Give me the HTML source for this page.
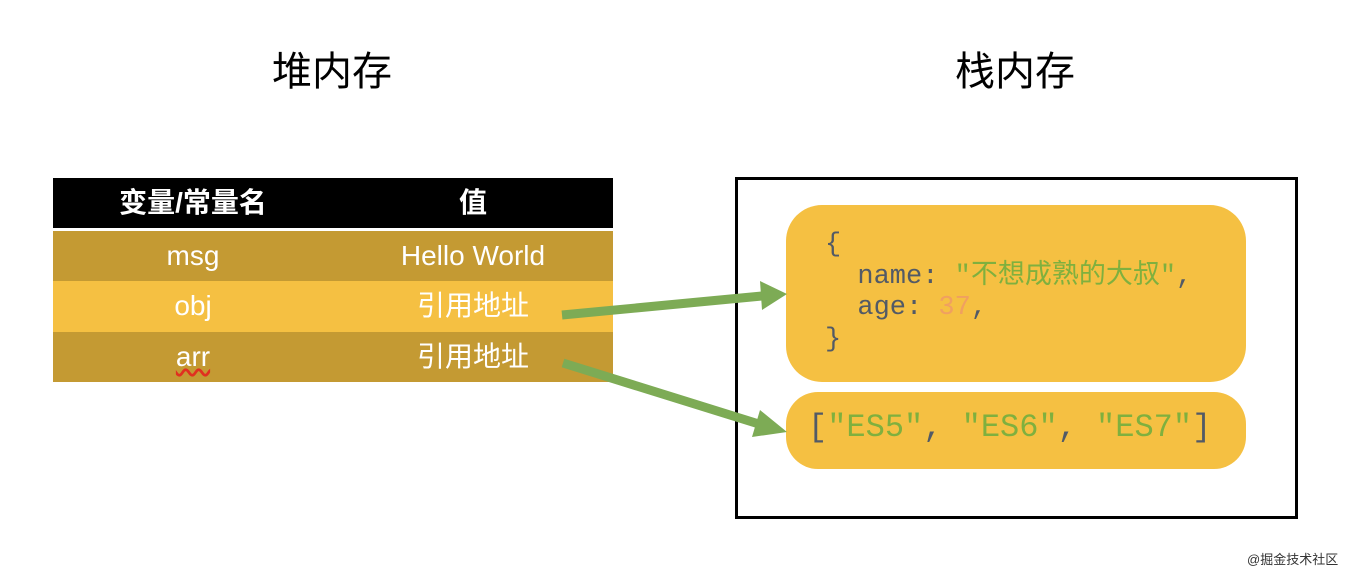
<!DOCTYPE html>
<html><head><meta charset="utf-8"><style>
body{margin:0;width:1360px;height:576px;background:#fff;position:relative;overflow:hidden;font-family:"Liberation Sans","Noto Sans CJK SC",sans-serif}
.a{position:absolute}
.t{font-size:40px;color:#000;top:48px;line-height:48px}
.row{position:absolute;left:53px;width:560px;height:50px;color:#fff;font-size:28px;line-height:50px}
.row span{position:absolute;text-align:center}
.c1{left:0;width:280px}.c2{left:280px;width:280px}
.code{font-family:"Liberation Mono","Noto Sans CJK SC",monospace;white-space:pre;color:#525a66}
.g{color:#7fb03e}.o{color:#f0a060}
</style></head><body>
<div class="a t" style="left:272px">堆内存</div>
<div class="a t" style="left:955px">栈内存</div>
<div class="row" style="top:178px;background:#000;font-weight:bold;height:50px"><span class="c1">变量/常量名</span><span class="c2">值</span></div>
<div class="row" style="top:231px;background:#c49a33"><span class="c1">msg</span><span class="c2">Hello World</span></div>
<div class="row" style="top:281px;background:#f5c042;height:51px"><span class="c1">obj</span><span class="c2">引用地址</span></div>
<div class="row" style="top:332px;background:#c49a33"><span class="c1"><u style="text-decoration:underline wavy #e03020">arr</u></span><span class="c2">引用地址</span></div>
<div class="a" style="left:735px;top:177px;width:557px;height:336px;border:3px solid #000"></div>
<div class="a" style="left:786px;top:205px;width:460px;height:177px;background:#f5c042;border-radius:36px"></div>
<div class="a" style="left:786px;top:392px;width:460px;height:77px;background:#f5c042;border-radius:32px"></div>
<div class="a code" style="left:825px;top:230px;font-size:27px;line-height:31.5px">{
  name: <span class="g">"不想成熟的大叔"</span>,
  age: <span class="o">37</span>,
}</div>
<div class="a code" style="left:808px;top:408px;font-size:32px;line-height:40px">[<span class="g">"ES5"</span>, <span class="g">"ES6"</span>, <span class="g">"ES7"</span>]</div>
<svg class="a" style="left:0;top:0" width="1360" height="576">
<g stroke="#7dab55" stroke-width="9" fill="#7dab55">
<line x1="562" y1="315" x2="762" y2="296"/>
<line x1="563" y1="363" x2="762" y2="425"/>
</g>
<polygon points="787,294 760,281 762,310" fill="#7dab55"/>
<polygon points="787,432 760,410 752,437" fill="#7dab55"/>
</svg>
<div class="a" style="left:1247px;top:549px;font-size:13px;color:#333">@掘金技术社区</div>
</body></html>
